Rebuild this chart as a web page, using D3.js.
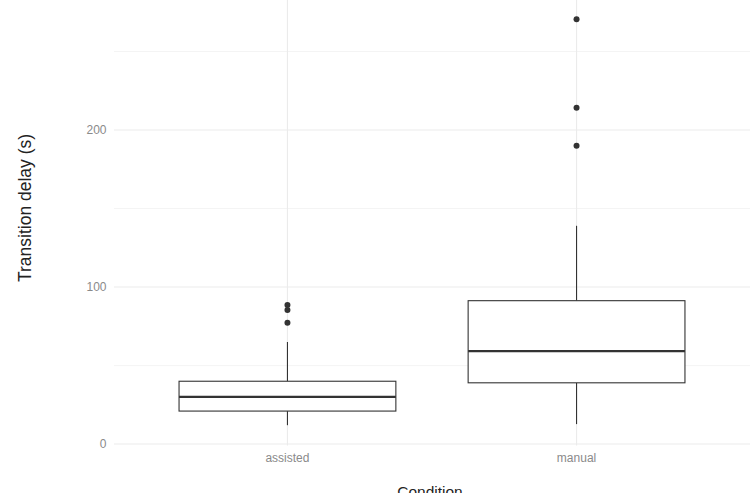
<!DOCTYPE html>
<html lang="en">
<head>
    <meta charset="UTF-8">
    <title>Transition delay by condition</title>
    <script src="https://d3js.org/d3.v7.min.js"></script>
    <style>
        body { margin: 0; background: #fff; }
        svg { display: block; font-family: "Liberation Sans", Arial, sans-serif; }
        .tick-label { fill: #8a8a8a; font-size: 12px; }
        .axis-title { fill: #222; }
    </style>
</head>
<body>
<div id="chart"></div>
<script>
    // values
    var categories = ["assisted", "manual"];
    var whiskerLow = [12, 12.7];
    var q1 = [21, 39];
    var medians = [30, 59.2];
    var q3 = [40, 91.3];
    var whiskerHigh = [65, 139];
    var outliers = [[88.5, 85.4, 77.3], [270.5, 214.2, 190]];
    var yTicks = [0, 100, 200];
    var yMinor = [50, 150, 250];

    var width = 755, height = 493;
    // panel edges (note: "top" is a reserved window property, so use other names)
    var panelL = 114, panelR = 750, panelT = -1, panelB = 445.5;

    var svg = d3.select("#chart").append("svg")
        .attr("width", width)
        .attr("height", height);

    // ggplot style expansion: 5% on continuous, 0.6 units on discrete
    var lo = d3.min(whiskerLow), hi = d3.max(outliers.flat());
    var pad = (hi - lo) * 0.05;
    var y = d3.scaleLinear().domain([lo - pad, hi + pad]).range([panelB, panelT]);

    var x = d3.scaleLinear().domain([0.4, categories.length + 0.6]).range([panelL, panelR]);
    var unit = x(2) - x(1);
    var boxW = unit * 0.75;

    // grid
    svg.selectAll(".minor").data(yMinor).enter().append("line")
        .attr("x1", panelL).attr("x2", panelR)
        .attr("y1", d => y(d)).attr("y2", d => y(d))
        .attr("stroke", "#f1f1f1").attr("stroke-width", 0.8);
    svg.selectAll(".major").data(yTicks).enter().append("line")
        .attr("x1", panelL).attr("x2", panelR)
        .attr("y1", d => y(d)).attr("y2", d => y(d))
        .attr("stroke", "#ebebeb").attr("stroke-width", 1.1);
    svg.selectAll(".vgrid").data(categories).enter().append("line")
        .attr("x1", (d, i) => x(i + 1)).attr("x2", (d, i) => x(i + 1))
        .attr("y1", panelT).attr("y2", panelB)
        .attr("stroke", "#ebebeb").attr("stroke-width", 1.1);

    // tick labels
    svg.selectAll(".ylab").data(yTicks).enter().append("text")
        .attr("class", "tick-label")
        .attr("x", panelL - 7.5).attr("y", d => y(d))
        .attr("dy", "0.35em")
        .attr("text-anchor", "end")
        .text(d => d);
    svg.selectAll(".xlab").data(categories).enter().append("text")
        .attr("class", "tick-label")
        .attr("x", (d, i) => x(i + 1)).attr("y", 462)
        .attr("text-anchor", "middle")
        .text(d => d);

    // boxes
    var g = svg.selectAll(".box").data(categories).enter().append("g");
    var col = "#333333";
    g.append("line")
        .attr("x1", (d, i) => x(i + 1)).attr("x2", (d, i) => x(i + 1))
        .attr("y1", (d, i) => y(whiskerHigh[i])).attr("y2", (d, i) => y(q3[i]))
        .attr("stroke", col).attr("stroke-width", 1.1);
    g.append("line")
        .attr("x1", (d, i) => x(i + 1)).attr("x2", (d, i) => x(i + 1))
        .attr("y1", (d, i) => y(q1[i])).attr("y2", (d, i) => y(whiskerLow[i]))
        .attr("stroke", col).attr("stroke-width", 1.1);
    g.append("rect")
        .attr("x", (d, i) => x(i + 1) - boxW / 2)
        .attr("width", boxW)
        .attr("y", (d, i) => y(q3[i]))
        .attr("height", (d, i) => y(q1[i]) - y(q3[i]))
        .attr("fill", "#fff").attr("stroke", col).attr("stroke-width", 1.1);
    g.append("line")
        .attr("x1", (d, i) => x(i + 1) - boxW / 2).attr("x2", (d, i) => x(i + 1) + boxW / 2)
        .attr("y1", (d, i) => y(medians[i])).attr("y2", (d, i) => y(medians[i]))
        .attr("stroke", col).attr("stroke-width", 2.2);

    // outliers
    categories.forEach(function (c, i) {
        svg.selectAll(".out" + i).data(outliers[i]).enter().append("circle")
            .attr("cx", x(i + 1)).attr("cy", d => y(d))
            .attr("r", 3).attr("fill", col);
    });

    // axis titles
    svg.append("text").attr("class", "axis-title")
        .attr("transform", "translate(31,208) rotate(-90)")
        .attr("text-anchor", "middle")
        .style("font-size", "17.5px")
        .text("Transition delay (s)");
    svg.append("text").attr("class", "axis-title")
        .attr("x", (panelL + panelR) / 2 - 2).attr("y", 497)
        .attr("text-anchor", "middle")
        .style("font-size", "15.5px")
        .text("Condition");
</script>
</body>
</html>
